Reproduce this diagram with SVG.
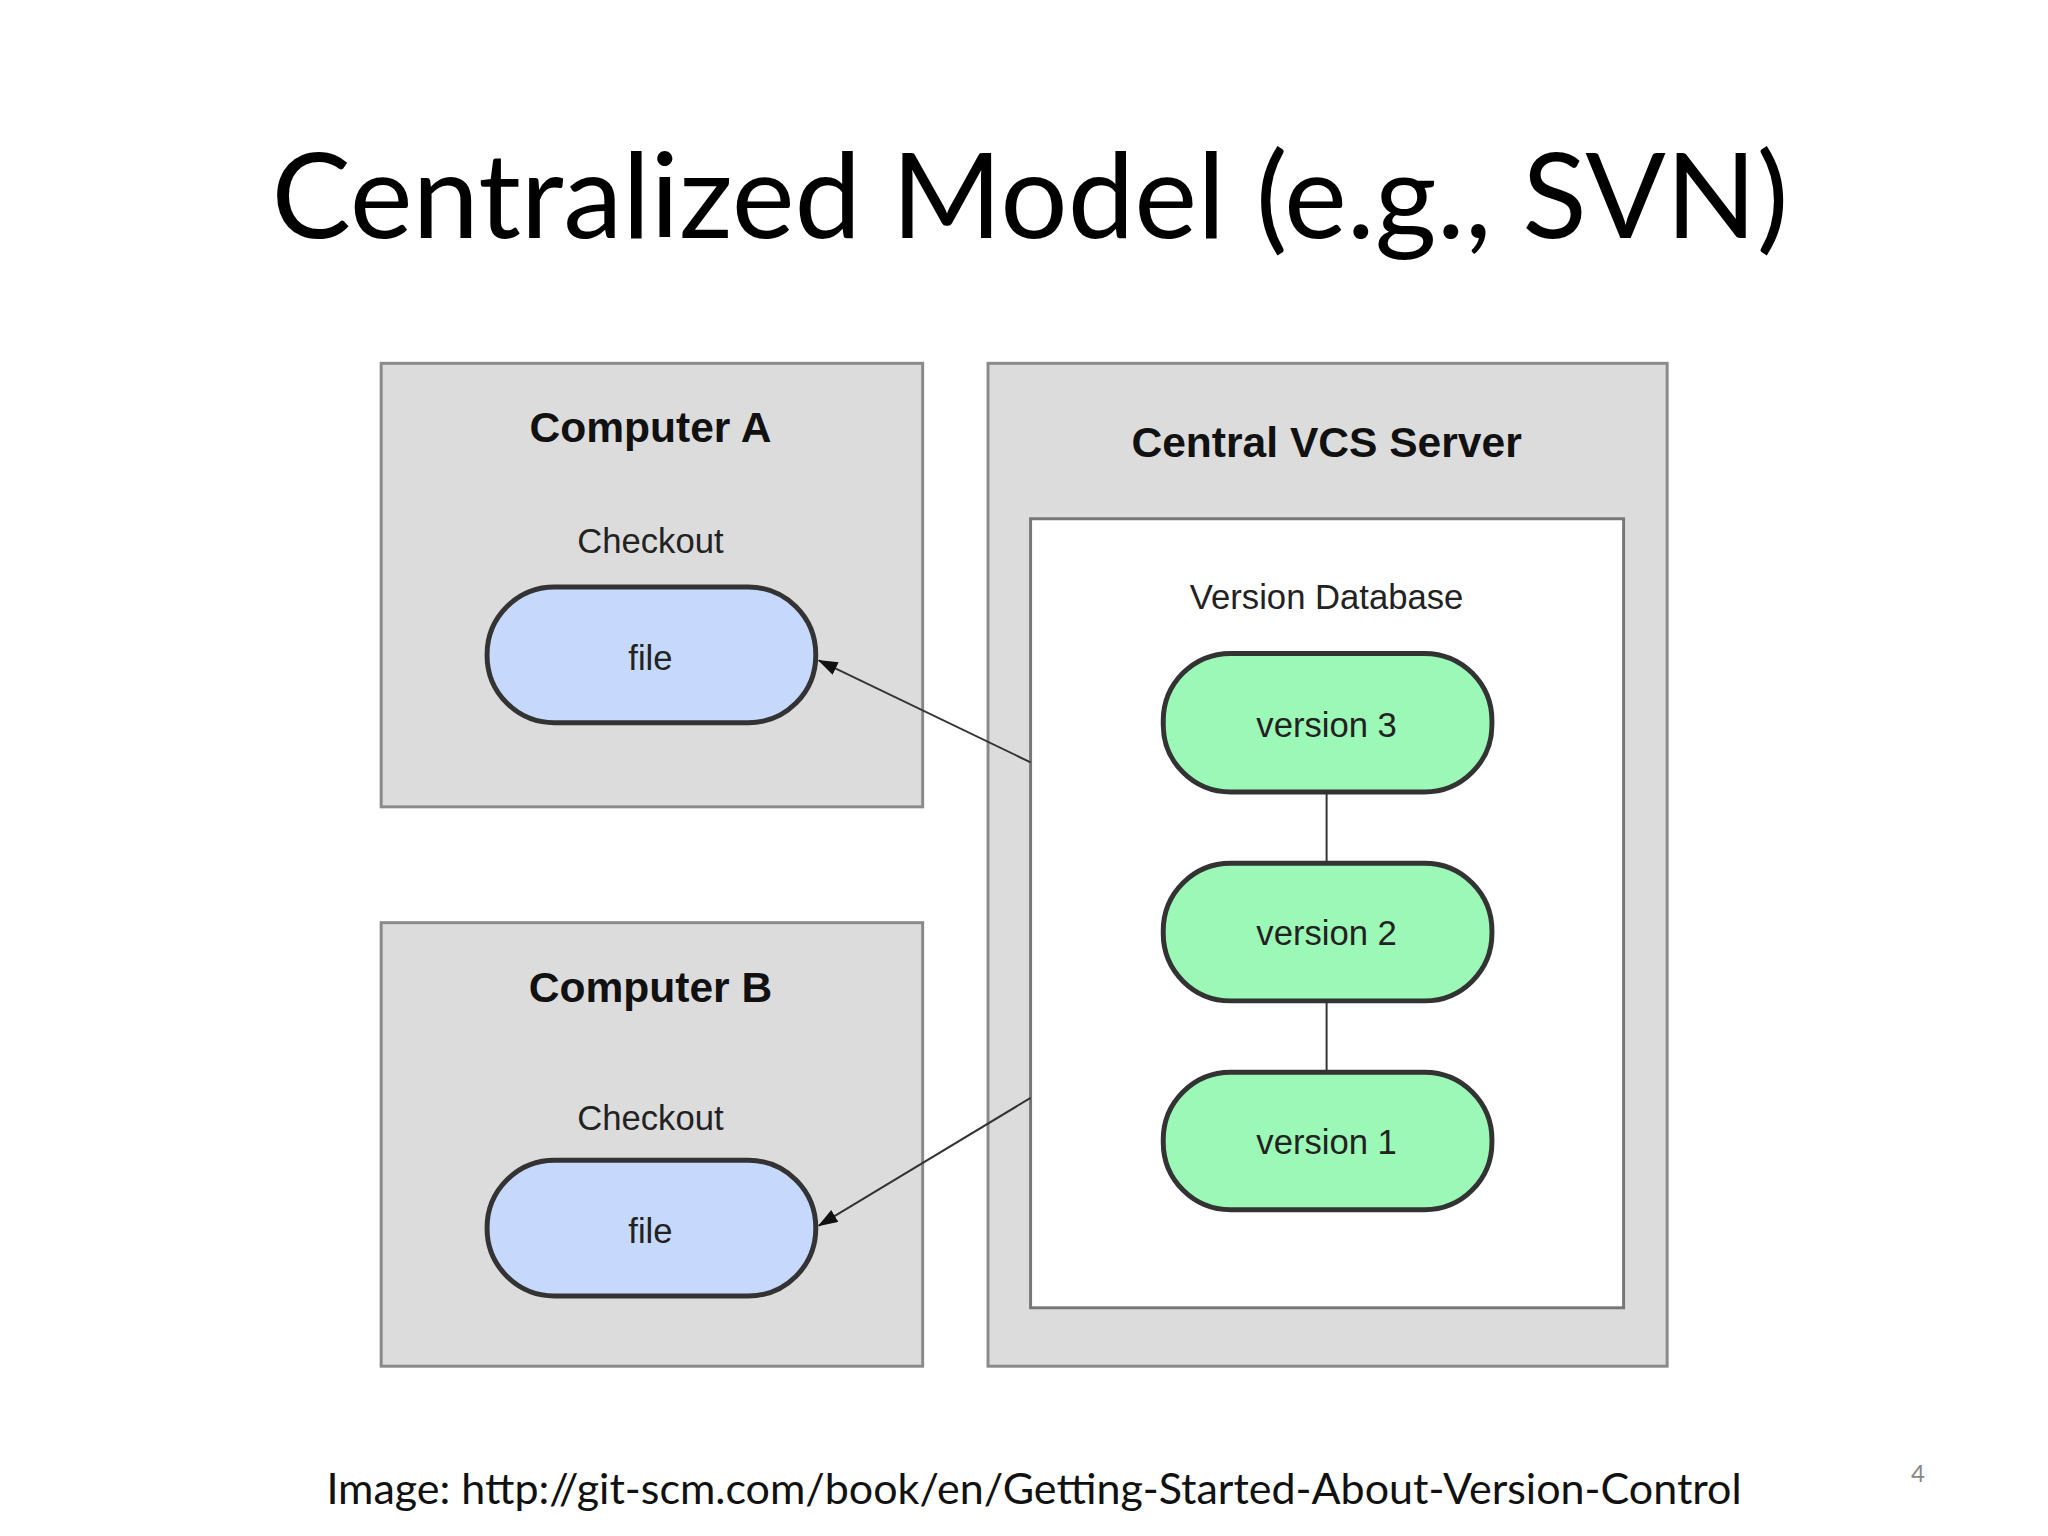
<svg xmlns="http://www.w3.org/2000/svg" width="2048" height="1536" viewBox="0 0 2048 1536">
<style>
.box{fill:#dcdcdc;stroke:#8a8a8a;stroke-width:3}
.inner{fill:#fff;stroke:#777;stroke-width:3}
.file{fill:#c6d9fc;stroke:#333;stroke-width:5}
.ver{fill:#9cf8b7;stroke:#333;stroke-width:5}
.h{font-family:"Liberation Sans",Arial,sans-serif;font-weight:bold;font-size:43px;fill:#111;text-anchor:middle}
.l{font-family:"Liberation Sans",Arial,sans-serif;font-size:35px;fill:#222;text-anchor:middle}
.c{stroke:#333;stroke-width:2;fill:none}
</style>
<defs><marker id="ah" markerWidth="20" markerHeight="14" refX="19" refY="7" orient="auto" markerUnits="userSpaceOnUse" viewBox="0 0 20 14"><path d="M0,0L20,7L0,14z" fill="#111"/></marker></defs>
<rect width="2048" height="1536" fill="#fff"/>
<text x="1030" y="238" font-family="Lato,'Open Sans',sans-serif" font-size="119" text-anchor="middle" fill="#000">Centralized Model (e.g., SVN)</text>
<g transform="scale(0.99)">
<g id="computerA"><rect class="box" x="385" y="367" width="547" height="448"/><text class="h" x="657" y="446">Computer A</text><text class="l" x="657" y="559">Checkout</text></g>
<g id="fileA"><rect class="file" x="492" y="593" width="332" height="137" rx="68"/><text class="l" x="657" y="677">file</text></g>
<g id="computerB"><rect class="box" x="385" y="932" width="547" height="448"/><text class="h" x="657" y="1012">Computer B</text><text class="l" x="657" y="1141">Checkout</text></g>
<g id="fileB"><rect class="file" x="492" y="1172" width="332" height="137" rx="68"/><text class="l" x="657" y="1256">file</text></g>
<g id="server"><rect class="box" x="998" y="367" width="686" height="1013"/><text class="h" x="1340" y="462">Central VCS Server</text><rect class="inner" x="1041" y="524" width="599" height="797"/><text class="l" x="1340" y="615">Version Database</text></g>
<g id="v3"><rect class="ver" x="1175" y="660" width="332" height="140" rx="68"/><text class="l" x="1340" y="744">version 3</text></g>
<g id="v2"><rect class="ver" x="1175" y="872" width="332" height="139" rx="68"/><text class="l" x="1340" y="955">version 2</text></g>
<g id="v1"><rect class="ver" x="1175" y="1083" width="332" height="139" rx="68"/><text class="l" x="1340" y="1166">version 1</text></g>
<g id="connectors">
<line class="c" x1="1340" y1="800" x2="1340" y2="872"/>
<line class="c" x1="1340" y1="1011" x2="1340" y2="1083"/>
<line class="c" x1="1041" y1="770" x2="827" y2="667" marker-end="url(#ah)"/>
<line class="c" x1="1041" y1="1109" x2="827" y2="1238" marker-end="url(#ah)"/>
</g>
</g>
<text x="1034" y="1504" font-family="Lato,'Open Sans',sans-serif" font-size="43" text-anchor="middle" fill="#111">Image: http://git-scm.com/book/en/Getting-Started-About-Version-Control</text>
<text x="1918" y="1482" font-family="Lato,'Open Sans',sans-serif" font-size="24" text-anchor="middle" fill="#888">4</text>
</svg>
